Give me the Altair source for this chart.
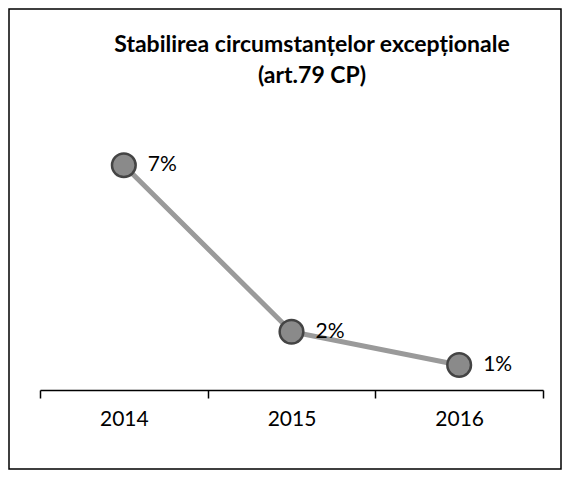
import altair as alt
import pandas as pd

years = ["2014", "2015", "2016"]
values = [7, 2, 1]
labels = ["7%", "2%", "1%"]
title_lines = ["Stabilirea circumstanțelor excepționale", "(art.79 CP)"]

df = pd.DataFrame({"year": years, "value": values, "label": labels})

x_enc = alt.X(
    "year:N",
    sort=years,
    title=None,
    scale=alt.Scale(type="band", paddingInner=0, paddingOuter=0),
    axis=alt.Axis(
        labelAngle=0,
        tickBand="extent",
        tickSize=8,
        tickColor="black",
        tickWidth=1.5,
        domainColor="black",
        domainWidth=1.5,
        labelFont="Lato",
        labelFontSize=21,
        labelColor="black",
        labelPadding=10,
        grid=False,
    ),
)
y_enc = alt.Y("value:Q", scale=alt.Scale(domain=[0.25, 8], zero=False), axis=None)

base = alt.Chart(df).encode(x=x_enc, y=y_enc)

line = base.mark_line(color="#9a9a9a", strokeWidth=5)
points = base.mark_point(filled=True, color="#8a8a8a", stroke="#444444",
                         strokeWidth=2.5, size=560, opacity=1)
text = base.mark_text(align="left", baseline="middle", dx=24, font="Lato",
                      fontSize=21, color="black").encode(text="label:N")

one = pd.DataFrame({"f": [0]})
frame = alt.Chart(one).mark_rect(
    fill=None, stroke="black", strokeWidth=1.5
).encode(x=alt.value(-31), x2=alt.value(521), y=alt.value(-123), y2=alt.value(337))

title = alt.Chart(one).mark_text(
    text=title_lines, lineHeight=31, align="center", baseline="top",
    font="Lato", fontSize=23, fontWeight="bold", color="black"
).encode(x=alt.value(272), y=alt.value(-98))

chart = alt.layer(frame, title, line, points, text).properties(
    width=503,
    height=258,
    autosize=alt.AutoSizeParams(type="none"),
    padding={"left": 32, "top": 124, "right": 20, "bottom": 80},
).configure_view(stroke=None)

chart.save("out.html", embed_options={"renderer": "svg", "actions": False})
